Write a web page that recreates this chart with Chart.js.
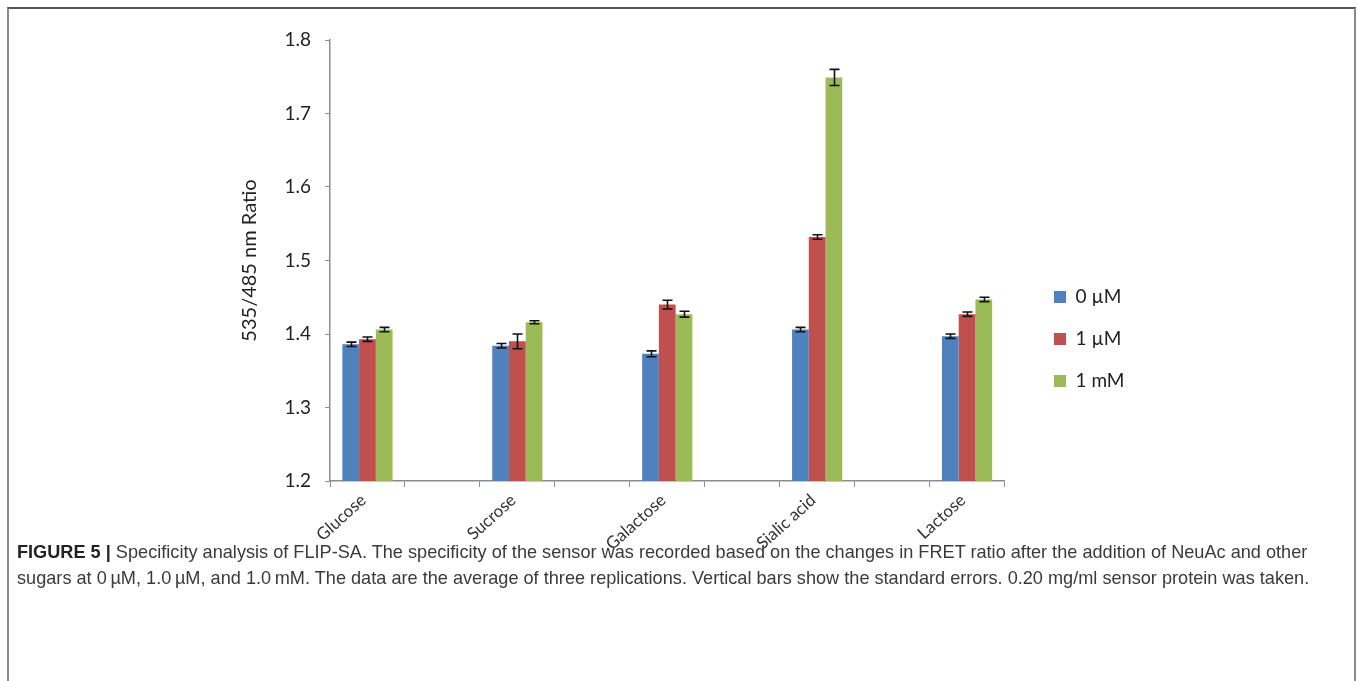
<!DOCTYPE html>
<html>
<head>
<meta charset="utf-8">
<title>FLIP-SA specificity</title>
<script src="https://cdn.jsdelivr.net/npm/chart.js@4.4.1/dist/chart.umd.min.js"></script>
<style>
  html, body { margin: 0; padding: 0; background: #fff; overflow: hidden; }
  #wrap { position: relative; width: 1357px; height: 681px; }
  #frame {
    position: absolute; left: 7px; top: 7px; width: 1345px; height: 720px;
    border-top: 2px solid #555; border-left: 2px solid #8a8a8a; border-right: 2px solid #8a8a8a;
  }
  #chart { position: absolute; left: 0; top: 0; }
  #caption {
    position: absolute; left: 17px; top: 539px;
    font-family: "Liberation Sans", Arial, sans-serif;
    font-size: 19px; line-height: 26px; color: #3a3a3a; white-space: nowrap;
    transform: scaleX(0.955); transform-origin: 0 0;
  }
  #caption b { color: #222; }
</style>
</head>
<body>
<div id="wrap">
  <div id="frame"></div>
  <canvas id="chart" width="1357" height="678"></canvas>
  <div id="caption"><b>FIGURE 5 |</b> Specificity analysis of FLIP-SA. The specificity of the sensor was recorded based on the changes in FRET ratio after the addition of NeuAc and other<br>sugars at 0&#8201;µM, 1.0&#8201;µM, and 1.0&#8201;mM. The data are the average of three replications. Vertical bars show the standard errors. 0.20 mg/ml sensor protein was taken.</div>
</div>
<script>
// Sugars tested and the three concentrations
const sugars = ['Glucose', 'Sucrose', 'Galactose', 'Sialic acid', 'Lactose'];
const seriesNames = ['0 µM', '1 µM', '1 mM'];

// Mean 535/485 nm ratio per sugar
const ratio0uM = [1.386, 1.384, 1.373, 1.406, 1.397];
const ratio1uM = [1.393, 1.390, 1.440, 1.532, 1.427];
const ratio1mM = [1.406, 1.416, 1.427, 1.749, 1.447];

// Standard errors
const err0uM = [0.003, 0.003, 0.004, 0.003, 0.003];
const err1uM = [0.003, 0.010, 0.006, 0.003, 0.003];
const err1mM = [0.003, 0.002, 0.004, 0.011, 0.003];

// Value axis
const yMin = 1.2;
const yMax = 1.8;
const yStep = 0.1;

const seriesColors = ['#4F81BD', '#C0504D', '#9BBB59'];
const FONT = 'Lato, "Open Sans", sans-serif';

// The category axis keeps an empty slot between two sugars
const slotLabels = [];
sugars.forEach((s, i) => { slotLabels.push(s); if (i < sugars.length - 1) slotLabels.push(''); });
const spread = arr => {
  const out = [];
  arr.forEach((v, i) => { out.push(v); if (i < arr.length - 1) out.push(null); });
  return out;
};

const values = [ratio0uM, ratio1uM, ratio1mM];
const errors = [err0uM, err1uM, err1mM];

const datasets = seriesNames.map((name, k) => ({
  label: name,
  data: spread(values[k]),
  errors: spread(errors[k]),
  backgroundColor: seriesColors[k],
  borderWidth: 0,
  categoryPercentage: 0.67,
  barPercentage: 1.0
}));

// Standard-error whiskers drawn from each bar's value
const errorBars = {
  id: 'errorBars',
  afterDatasetsDraw(chart) {
    const ctx = chart.ctx;
    const y = chart.scales.y;
    ctx.save();
    ctx.strokeStyle = '#111';
    ctx.lineWidth = 1.6;
    chart.data.datasets.forEach((ds, i) => {
      const meta = chart.getDatasetMeta(i);
      meta.data.forEach((bar, j) => {
        const v = ds.data[j];
        const e = ds.errors[j];
        if (v === null || e === null) return;
        const x = Math.round(bar.x) + 0.5;
        const top = y.getPixelForValue(v + e);
        const bot = y.getPixelForValue(v - e);
        ctx.beginPath();
        ctx.moveTo(x, top); ctx.lineTo(x, bot);
        ctx.moveTo(x - 5, top); ctx.lineTo(x + 5, top);
        ctx.moveTo(x - 5, bot); ctx.lineTo(x + 5, bot);
        ctx.stroke();
      });
    });
    ctx.restore();
  }
};

// Places the legend column to the right of the plot
const legendPlacement = {
  id: 'legendPlacement',
  afterLayout(chart) {
    const lg = chart.legend;
    if (!lg) return;
    const w = lg.width;
    lg.left = 1031;
    lg.right = lg.left + w;
  }
};

new Chart(document.getElementById('chart'), {
  type: 'bar',
  data: { labels: slotLabels, datasets },
  plugins: [errorBars, legendPlacement],
  options: {
    responsive: false,
    animation: false,
    devicePixelRatio: 1,
    layout: { padding: { left: 234, top: 40, right: 249, bottom: 40 } },
    plugins: {
      legend: {
        display: true,
        position: 'right',
        align: 'center',
        labels: {
          boxWidth: 12,
          boxHeight: 12,
          padding: 23,
          color: '#222',
          font: { family: FONT, size: 19 }
        }
      },
      tooltip: { enabled: false },
      title: { display: false }
    },
    scales: {
      x: {
        offset: true,
        grid: { display: true, offset: true, drawOnChartArea: false, drawTicks: true, tickLength: 6, color: '#8c8c8c', lineWidth: 1 },
        border: { display: true, color: '#8c8c8c', width: 1.5 },
        ticks: {
          autoSkip: false,
          maxRotation: 42,
          minRotation: 42,
          padding: 3,
          labelOffset: -4,
          color: '#333',
          font: { family: FONT, size: 17 }
        },
        afterFit(scale) { scale.height = 157; }
      },
      y: {
        min: yMin,
        max: yMax,
        grid: { display: true, drawOnChartArea: false, drawTicks: true, tickLength: 5, color: '#8c8c8c', lineWidth: 1 },
        border: { display: true, color: '#8c8c8c', width: 1.5 },
        ticks: {
          stepSize: yStep,
          padding: 14,
          color: '#222',
          font: { family: FONT, size: 19 },
          callback: v => Number(v).toFixed(1)
        },
        title: {
          display: true,
          text: '535/485 nm Ratio',
          color: '#222',
          padding: { top: 4, bottom: 0 },
          font: { family: FONT, size: 20 }
        },
        afterFit(scale) { scale.width = 96; }
      }
    }
  }
});
</script>
</body>
</html>
